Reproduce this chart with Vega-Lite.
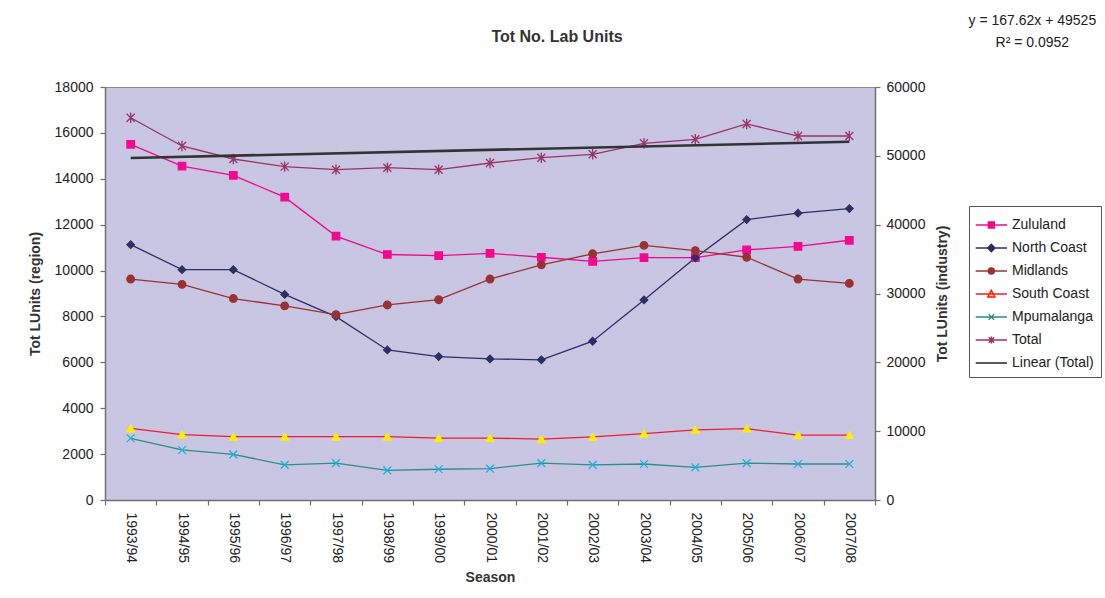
{
  "$schema": "https://vega.github.io/schema/vega-lite/v6.json",
  "width": 770,
  "height": 413,
  "autosize": "none",
  "padding": {"left": 105, "top": 87, "right": 230, "bottom": 98},
  "background": "white",
  "config": {
    "font": "Liberation Sans",
    "view": {"fill": "#C8C6E3", "stroke": "#8a8a8a", "strokeWidth": 1},
    "axis": {"grid": false, "labelFont": "Liberation Sans", "titleFont": "Liberation Sans", "labelFontSize": 14, "titleFontSize": 14, "labelColor": "#222222", "titleColor": "#333333", "titleFontWeight": "bold", "domainColor": "#707070", "domainWidth": 1.5, "tickColor": "#707070", "tickWidth": 1.2, "tickSize": 5},
    "legend": {"labelFont": "Liberation Sans", "labelFontSize": 14, "labelColor": "#222222", "symbolSize": 500, "symbolStrokeWidth": 1.4, "rowPadding": 4, "labelOffset": 12, "padding": 7, "strokeColor": "#555555", "fillColor": "white", "cornerRadius": 0}
  },
  "title": {"text": "Tot No. Lab Units", "fontSize": 16, "fontWeight": "bold", "color": "#333333", "anchor": "middle", "dx": 67, "offset": -31, "font": "Liberation Sans"},
  "datasets": {
    "regions": [
      {"season": "1993/94", "series": "Zululand", "value": 15500},
      {"season": "1994/95", "series": "Zululand", "value": 14550},
      {"season": "1995/96", "series": "Zululand", "value": 14150},
      {"season": "1996/97", "series": "Zululand", "value": 13200},
      {"season": "1997/98", "series": "Zululand", "value": 11500},
      {"season": "1998/99", "series": "Zululand", "value": 10700},
      {"season": "1999/00", "series": "Zululand", "value": 10650},
      {"season": "2000/01", "series": "Zululand", "value": 10750},
      {"season": "2001/02", "series": "Zululand", "value": 10580},
      {"season": "2002/03", "series": "Zululand", "value": 10400},
      {"season": "2003/04", "series": "Zululand", "value": 10560},
      {"season": "2004/05", "series": "Zululand", "value": 10560},
      {"season": "2005/06", "series": "Zululand", "value": 10900},
      {"season": "2006/07", "series": "Zululand", "value": 11050},
      {"season": "2007/08", "series": "Zululand", "value": 11320},
      {"season": "1993/94", "series": "North Coast", "value": 11130},
      {"season": "1994/95", "series": "North Coast", "value": 10040},
      {"season": "1995/96", "series": "North Coast", "value": 10040},
      {"season": "1996/97", "series": "North Coast", "value": 8960},
      {"season": "1997/98", "series": "North Coast", "value": 7990},
      {"season": "1998/99", "series": "North Coast", "value": 6540},
      {"season": "1999/00", "series": "North Coast", "value": 6250},
      {"season": "2000/01", "series": "North Coast", "value": 6150},
      {"season": "2001/02", "series": "North Coast", "value": 6110},
      {"season": "2002/03", "series": "North Coast", "value": 6920},
      {"season": "2003/04", "series": "North Coast", "value": 8720},
      {"season": "2004/05", "series": "North Coast", "value": 10560},
      {"season": "2005/06", "series": "North Coast", "value": 12220},
      {"season": "2006/07", "series": "North Coast", "value": 12500},
      {"season": "2007/08", "series": "North Coast", "value": 12700},
      {"season": "1993/94", "series": "Midlands", "value": 9630},
      {"season": "1994/95", "series": "Midlands", "value": 9400},
      {"season": "1995/96", "series": "Midlands", "value": 8780},
      {"season": "1996/97", "series": "Midlands", "value": 8460},
      {"season": "1997/98", "series": "Midlands", "value": 8080},
      {"season": "1998/99", "series": "Midlands", "value": 8500},
      {"season": "1999/00", "series": "Midlands", "value": 8730},
      {"season": "2000/01", "series": "Midlands", "value": 9630},
      {"season": "2001/02", "series": "Midlands", "value": 10250},
      {"season": "2002/03", "series": "Midlands", "value": 10730},
      {"season": "2003/04", "series": "Midlands", "value": 11100},
      {"season": "2004/05", "series": "Midlands", "value": 10870},
      {"season": "2005/06", "series": "Midlands", "value": 10580},
      {"season": "2006/07", "series": "Midlands", "value": 9630},
      {"season": "2007/08", "series": "Midlands", "value": 9440},
      {"season": "1993/94", "series": "South Coast", "value": 3120},
      {"season": "1994/95", "series": "South Coast", "value": 2850},
      {"season": "1995/96", "series": "South Coast", "value": 2760},
      {"season": "1996/97", "series": "South Coast", "value": 2760},
      {"season": "1997/98", "series": "South Coast", "value": 2760},
      {"season": "1998/99", "series": "South Coast", "value": 2760},
      {"season": "1999/00", "series": "South Coast", "value": 2700},
      {"season": "2000/01", "series": "South Coast", "value": 2700},
      {"season": "2001/02", "series": "South Coast", "value": 2650},
      {"season": "2002/03", "series": "South Coast", "value": 2750},
      {"season": "2003/04", "series": "South Coast", "value": 2890},
      {"season": "2004/05", "series": "South Coast", "value": 3060},
      {"season": "2005/06", "series": "South Coast", "value": 3110},
      {"season": "2006/07", "series": "South Coast", "value": 2830},
      {"season": "2007/08", "series": "South Coast", "value": 2830},
      {"season": "1993/94", "series": "Mpumalanga", "value": 2690},
      {"season": "1994/95", "series": "Mpumalanga", "value": 2180},
      {"season": "1995/96", "series": "Mpumalanga", "value": 1990},
      {"season": "1996/97", "series": "Mpumalanga", "value": 1530},
      {"season": "1997/98", "series": "Mpumalanga", "value": 1610},
      {"season": "1998/99", "series": "Mpumalanga", "value": 1290},
      {"season": "1999/00", "series": "Mpumalanga", "value": 1340},
      {"season": "2000/01", "series": "Mpumalanga", "value": 1370},
      {"season": "2001/02", "series": "Mpumalanga", "value": 1610},
      {"season": "2002/03", "series": "Mpumalanga", "value": 1530},
      {"season": "2003/04", "series": "Mpumalanga", "value": 1570},
      {"season": "2004/05", "series": "Mpumalanga", "value": 1420},
      {"season": "2005/06", "series": "Mpumalanga", "value": 1610},
      {"season": "2006/07", "series": "Mpumalanga", "value": 1570},
      {"season": "2007/08", "series": "Mpumalanga", "value": 1570}
    ],
    "total": [
      {"season": "1993/94", "value": 55540},
      {"season": "1994/95", "value": 51430},
      {"season": "1995/96", "value": 49540},
      {"season": "1996/97", "value": 48430},
      {"season": "1997/98", "value": 47990},
      {"season": "1998/99", "value": 48280},
      {"season": "1999/00", "value": 47990},
      {"season": "2000/01", "value": 48960},
      {"season": "2001/02", "value": 49730},
      {"season": "2002/03", "value": 50220},
      {"season": "2003/04", "value": 51820},
      {"season": "2004/05", "value": 52400},
      {"season": "2005/06", "value": 54630},
      {"season": "2006/07", "value": 52880},
      {"season": "2007/08", "value": 52880}
    ],
    "trend": [
      {"season": "1993/94", "value": 49692.62},
      {"season": "2007/08", "value": 52039.3}
    ],
    "equation": [
      {"season": "2007/08", "ypos": 69588, "label": ["y = 167.62x + 49525", "R² = 0.0952"]}
    ]
  },
  "encoding": {
    "x": {
      "field": "season", "type": "ordinal", "bandPosition": 0.5,
      "scale": {"type": "band", "paddingInner": 0, "paddingOuter": 0},
      "axis": {"title": "Season", "labelAngle": 90, "labelAlign": "left", "labelBaseline": "middle", "labelPadding": 7, "tickBand": "extent", "titlePadding": 8, "domainWidth": 1.5}
    }
  },
  "layer": [
    {
      "data": {"name": "regions"},
      "layer": [
        {
          "mark": {"type": "line", "strokeWidth": 1.3},
          "encoding": {
            "y": {"field": "value", "type": "quantitative", "scale": {"domain": [0, 18000], "nice": false}, "axis": {"orient": "left", "title": "Tot LUnits (region)", "values": [0, 2000, 4000, 6000, 8000, 10000, 12000, 14000, 16000, 18000], "format": "d", "labelPadding": 7, "titlePadding": 12}},
            "color": {"field": "series", "type": "nominal", "legend": null, "scale": {"domain": ["Zululand", "North Coast", "Midlands", "South Coast", "Mpumalanga"], "range": ["#F0098F", "#2E2E66", "#993333", "#F01E2C", "#2F8C86"]}}
          }
        },
        {
          "mark": {"type": "point", "filled": true, "opacity": 1, "strokeWidth": 1.3},
          "encoding": {
            "y": {"field": "value", "type": "quantitative"},
            "shape": {"field": "series", "type": "nominal", "legend": null, "scale": {"domain": ["Zululand", "North Coast", "Midlands", "South Coast", "Mpumalanga"], "range": ["square", "diamond", "circle", "triangle-up", "M-1,-1L1,1M-1,1L1,-1"]}},
            "fill": {"field": "series", "type": "nominal", "legend": null, "scale": {"domain": ["Zululand", "North Coast", "Midlands", "South Coast", "Mpumalanga"], "range": ["#F5088F", "#2E2E66", "#993333", "#FFEE00", "#1AAFE8"]}},
            "stroke": {"field": "series", "type": "nominal", "legend": null, "scale": {"domain": ["Zululand", "North Coast", "Midlands", "South Coast", "Mpumalanga"], "range": ["#F5088F", "#2E2E66", "#993333", "#FFEE00", "#1AAFE8"]}},
            "size": {"field": "series", "type": "nominal", "legend": null, "scale": {"domain": ["Zululand", "North Coast", "Midlands", "South Coast", "Mpumalanga"], "range": [55, 60, 60, 70, 64]}}
          }
        }
      ]
    },
    {
      "layer": [
        {
          "data": {"name": "total"},
          "mark": {"type": "line", "strokeWidth": 1.3, "color": "#993366"},
          "encoding": {
            "y": {"field": "value", "type": "quantitative", "scale": {"domain": [0, 60000], "nice": false}, "axis": {"orient": "right", "title": "Tot LUnits (industry)", "titleAngle": 270, "values": [0, 10000, 20000, 30000, 40000, 50000, 60000], "format": "d", "labelPadding": 6, "titlePadding": 25}}
          }
        },
        {
          "data": {"name": "total"},
          "mark": {"type": "point", "shape": "M-1,-1L1,1M-1,1L1,-1M0,-1.3V1.3", "size": 64, "stroke": "#993366", "strokeWidth": 1.3, "opacity": 1},
          "encoding": {
            "y": {"field": "value", "type": "quantitative"}
          }
        },
        {
          "data": {"name": "trend"},
          "mark": {"type": "line", "strokeWidth": 2.6, "color": "#333333"},
          "encoding": {
            "y": {"field": "value", "type": "quantitative"}
          }
        },
        {
          "data": {"name": "equation"},
          "mark": {"type": "text", "align": "center", "baseline": "middle", "dx": 183, "fontSize": 14, "lineHeight": 22, "color": "#222222", "font": "Liberation Sans"},
          "encoding": {
            "y": {"field": "ypos", "type": "quantitative"},
            "text": {"field": "label"}
          }
        }
      ]
    },
    {
      "data": {"values": []},
      "mark": {"type": "point", "filled": true, "opacity": 1},
      "encoding": {
        "shape": {"field": "series", "type": "nominal", "scale": {"domain": ["Zululand", "North Coast", "Midlands", "South Coast", "Mpumalanga", "Total", "Linear (Total)"], "range": ["M-1.1,0H1.7M0.03,-0.27H0.57V0.27H0.03Z", "M-1.1,0H1.7M0.3,-0.33L0.63,0L0.3,0.33L-0.03,0Z", "M-1.1,0H1.7M0.57,0A0.27,0.27,0,1,1,0.03,0A0.27,0.27,0,1,1,0.57,0Z", "M-1.1,0H1.7M0.3,-0.33L0.63,0.27H-0.03Z", "M-1.1,0H1.7M0.06,-0.24L0.54,0.24M0.06,0.24L0.54,-0.24", "M-1.1,0H1.7M0.06,-0.24L0.54,0.24M0.06,0.24L0.54,-0.24M0.3,-0.32V0.32", "M-1.1,0H1.7"]}, "legend": {"title": null, "orient": "none", "legendX": 864, "legendY": 119}},
        "stroke": {"field": "series", "type": "nominal", "scale": {"domain": ["Zululand", "North Coast", "Midlands", "South Coast", "Mpumalanga", "Total", "Linear (Total)"], "range": ["#F0098F", "#2E2E66", "#993333", "#F01E2C", "#2F8C86", "#993366", "#222222"]}, "legend": {"title": null, "orient": "none", "legendX": 864, "legendY": 119}},
        "fill": {"field": "series", "type": "nominal", "scale": {"domain": ["Zululand", "North Coast", "Midlands", "South Coast", "Mpumalanga", "Total", "Linear (Total)"], "range": ["#F5088F", "#2E2E66", "#993333", "#FFEE00", "#1AAFE8", "#993366", "#222222"]}, "legend": {"title": null, "orient": "none", "legendX": 864, "legendY": 119}}
      }
    }
  ],
  "resolve": {"scale": {"y": "independent", "shape": "independent", "stroke": "independent", "fill": "independent", "color": "independent", "size": "independent"}}
}
